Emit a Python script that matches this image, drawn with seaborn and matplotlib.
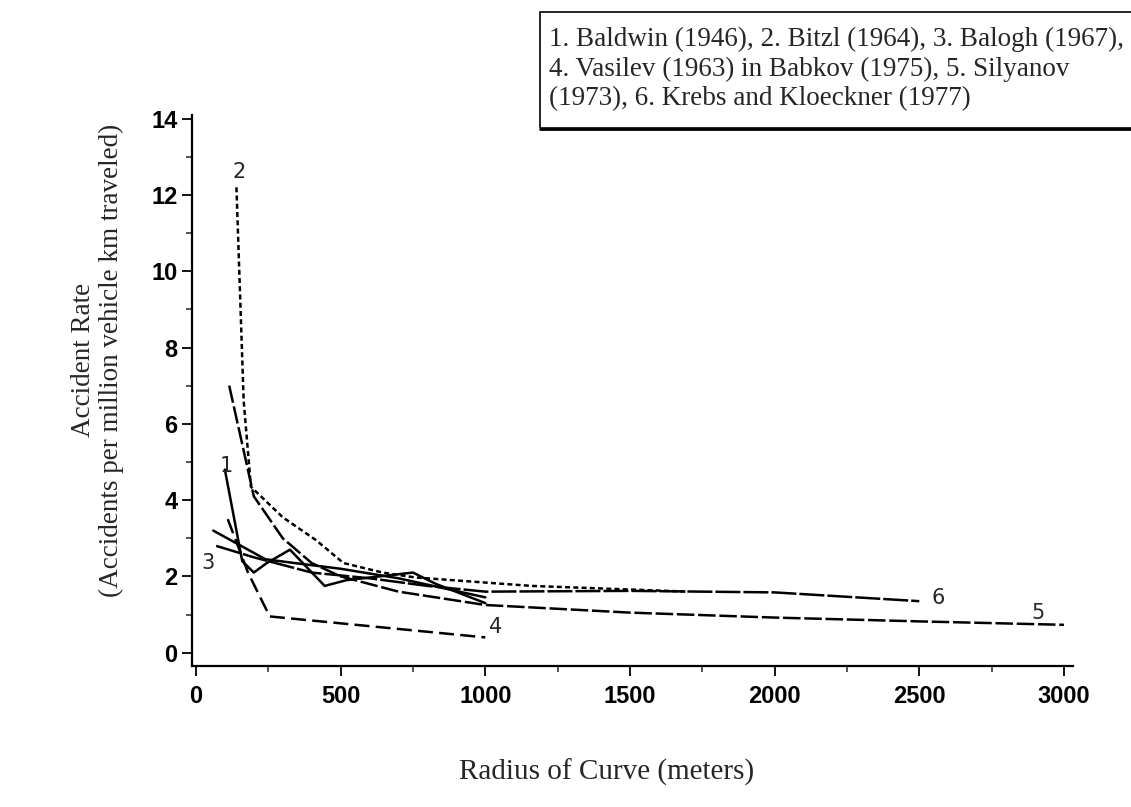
import numpy as np
import matplotlib
matplotlib.use("Agg")
import matplotlib.pyplot as plt
import pandas as pd
import seaborn as sns
from matplotlib.patches import Rectangle
from matplotlib.ticker import MultipleLocator

# curves (radius in m, rate per million veh-km)
x1 = [100, 160, 200, 245, 325, 445, 520, 750, 830, 1000]
y1 = [4.8, 2.4, 2.1, 2.35, 2.7, 1.75, 1.9, 2.1, 1.8, 1.3]
x2 = [140, 165, 190, 300, 415, 510, 645, 760, 1160, 1700]
y2 = [12.2, 6.6, 4.35, 3.55, 2.95, 2.35, 2.1, 1.97, 1.75, 1.6]
x3 = [60, 240, 340, 500, 700, 1000]
y3 = [3.2, 2.45, 2.35, 2.2, 1.95, 1.45]
x4 = [110, 180, 255, 1000]
y4 = [3.5, 2.1, 0.95, 0.4]
x5 = [115, 200, 300, 400, 500, 700, 1000, 1500, 2000, 2500, 3000]
y5 = [7.0, 4.1, 3.0, 2.35, 2.0, 1.6, 1.25, 1.05, 0.92, 0.82, 0.73]
x6 = [70, 200, 400, 600, 800, 1000, 1500, 2000, 2500]
y6 = [2.8, 2.5, 2.1, 1.95, 1.75, 1.6, 1.62, 1.58, 1.35]

curve_ids = ["1", "2", "3", "4", "5", "6"]
label_x = [105, 150, 40, 1035, 2910, 2565]
label_y = [4.9, 12.6, 2.35, 0.68, 1.05, 1.44]

legend_text = ("1. Baldwin (1946), 2. Bitzl (1964), 3. Balogh (1967),\n"
               "4. Vasilev (1963) in Babkov (1975), 5. Silyanov\n"
               "(1973), 6. Krebs and Kloeckner (1977)")

frames = []
for cid, xs, ys in zip(curve_ids, [x1, x2, x3, x4, x5, x6], [y1, y2, y3, y4, y5, y6]):
    frames.append(pd.DataFrame({"radius": xs, "rate": ys, "study": cid}))
df = pd.concat(frames, ignore_index=True)

sns.set_style("ticks")
plt.rcParams["font.family"] = ["Liberation Serif", "DejaVu Serif"]

fig = plt.figure(figsize=(11.31, 8.07), dpi=100)
ax = fig.add_axes([0.1694, 0.1747, 0.779, 0.683])

dash_map = {"1": "", "2": (2, 1.3), "3": "", "4": (6, 2.5), "5": (7, 1.5), "6": (10, 1.2)}
sns.lineplot(data=df, x="radius", y="rate", style="study", dashes=dash_map,
             color="black", linewidth=1.8, legend=False, estimator=None,
             sort=False, ax=ax)

for cid, lx, ly in zip(curve_ids, label_x, label_y):
    ax.text(lx, ly, cid, fontsize=15, family="DejaVu Sans", ha="center", va="center")

ax.set_xlim(-15, 3030)
ax.set_ylim(-0.35, 14.1)
ax.set_xticks(range(0, 3001, 500))
ax.set_yticks(range(0, 15, 2))
ax.xaxis.set_minor_locator(MultipleLocator(250))
ax.yaxis.set_minor_locator(MultipleLocator(1))
ax.tick_params(axis="both", which="major", length=7, width=1.3, labelsize=17,
               direction="out", colors="black", pad=3)
ax.tick_params(axis="x", which="major", pad=7)
ax.tick_params(axis="both", which="minor", length=4, width=1.1)
for lab in ax.get_xticklabels() + ax.get_yticklabels():
    lab.set_family("Liberation Sans")
    lab.set_fontweight("bold")
for s in ["left", "bottom"]:
    ax.spines[s].set_linewidth(1.6)
    ax.spines[s].set_color("black")
sns.despine(ax=ax)

ax.set_xlabel("Radius of Curve (meters)", fontsize=21, labelpad=36, x=0.471)
ax.set_ylabel("Accident Rate\n(Accidents per million vehicle km traveled)",
              fontsize=19.5, labelpad=20, linespacing=1.1, y=0.555)

# study key, box runs off the right edge like the scan
fig.patches.append(Rectangle((540 / 1131, 1 - 128 / 807), 0.6, 116 / 807,
                             transform=fig.transFigure, fill=False,
                             edgecolor="black", linewidth=1.2))
fig.lines.append(plt.Line2D([540 / 1131, 1], [1 - 129 / 807, 1 - 129 / 807],
                            transform=fig.transFigure, color="black", linewidth=2))
fig.text(549 / 1131, 1 - 69 / 807, legend_text, fontsize=19.5,
         ha="left", va="center", linespacing=1.25)

fig.savefig("out.png", dpi=100)
